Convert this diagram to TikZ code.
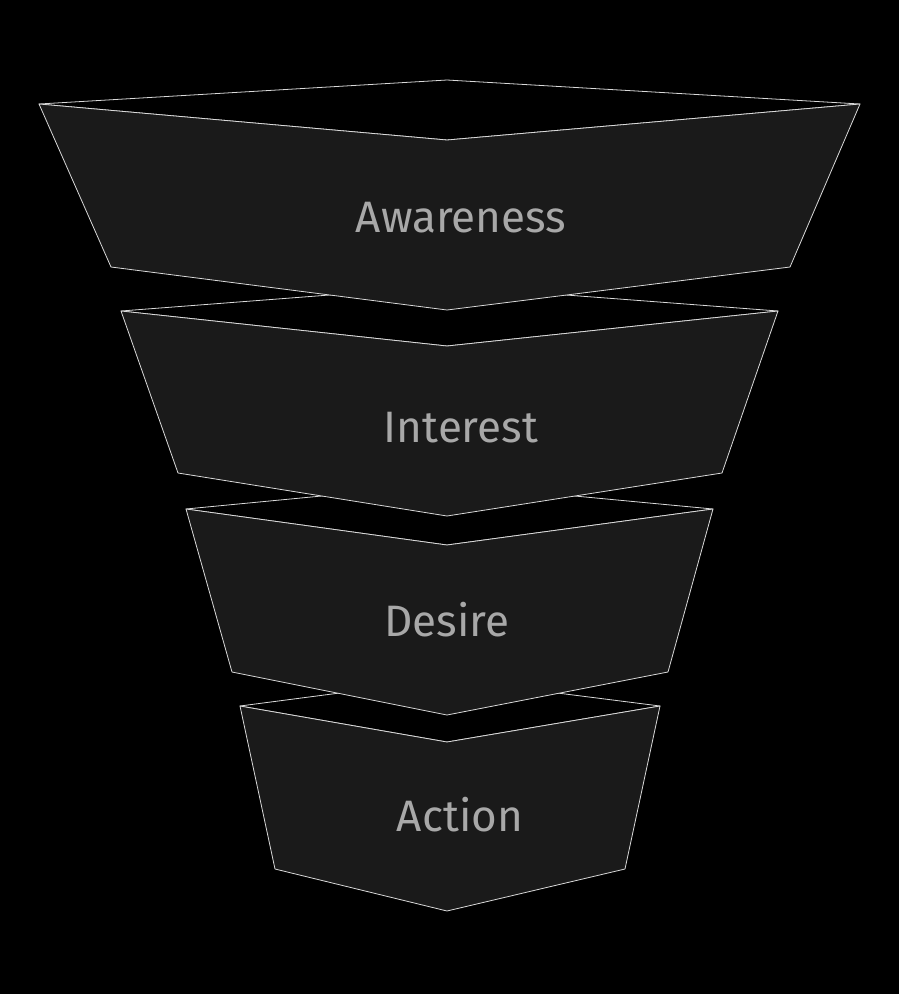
\documentclass[tikz,border=0pt]{standalone}
\usepackage{fontspec}
\setmainfont{Fira Sans}
\definecolor{body}{HTML}{1A1A1A}
\definecolor{txt}{HTML}{A8A8A8}
\begin{document}
\begin{tikzpicture}[x=1pt,y=-1pt,
  face/.style={fill=black,draw=white!85!black,line width=0.8pt,line join=round},
  bodyp/.style={fill=body,draw=white!85!black,line width=0.8pt,line join=round},
  lab/.style={text=txt,font=\fontsize{44}{52}\selectfont,inner sep=0pt}]
\fill[black] (0,0) rectangle (899,994);
\useasboundingbox (0,0) rectangle (899,994);
% segment 4
\draw[face] (240,706) -- (447,679) -- (660,706) -- (447,742) -- cycle;
\draw[bodyp] (240,706) -- (447,742) -- (660,706) -- (625,869) -- (447,911) -- (275,869) -- cycle;
\node[lab] (action) at (460,815) {Action};
% segment 3
\draw[face] (186,509) -- (447,484) -- (713,509) -- (447,545) -- cycle;
\draw[bodyp] (186,509) -- (447,545) -- (713,509) -- (668,672) -- (447,715) -- (232,672) -- cycle;
\node[lab] (desire) at (447,620) {Desire};
% segment 2
\draw[face] (121,311) -- (447,286) -- (778,311) -- (447,346) -- cycle;
\draw[bodyp] (121,311) -- (447,346) -- (778,311) -- (722,473) -- (447,516) -- (178,473) -- cycle;
\node[lab] (interest) at (461,428) {Interest};
% segment 1
\draw[face] (39,104) -- (447,80) -- (860,104) -- (447,140) -- cycle;
\draw[bodyp] (39,104) -- (447,140) -- (860,104) -- (790,267) -- (447,310) -- (111,267) -- cycle;
\node[lab] (awareness) at (461,218) {Awareness};
\end{tikzpicture}
\end{document}
